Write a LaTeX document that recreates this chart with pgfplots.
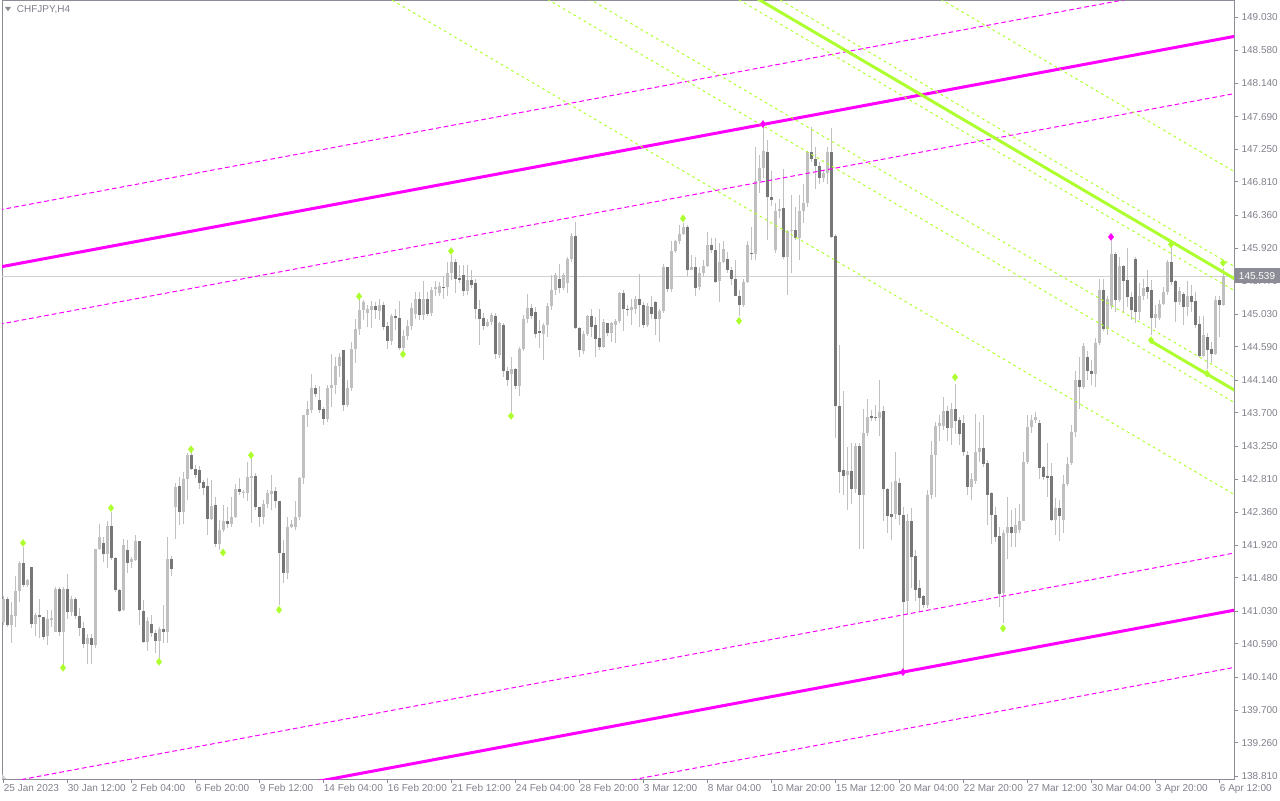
\documentclass[border=0pt]{standalone}
\usepackage{pgfplots}
\pgfplotsset{compat=1.18}
\usepackage{pgfplotstable}
\usepackage{fontspec}
\setmainfont{Liberation Sans}

\definecolor{bull}{HTML}{C0C0C0}
\definecolor{bear}{HTML}{777777}
\definecolor{lbl}{HTML}{80808C}
\definecolor{frame}{HTML}{8C8C96}
\definecolor{chan}{HTML}{FF00FF}
\definecolor{lime}{HTML}{ADFF2F}

% H4 bars, index 0 = 25 Jan 20:00
\pgfplotstableread{
i o h l c
0 140.89 141.23 140.84 141.20
1 141.20 141.22 140.82 140.84
2 140.84 141.16 140.60 140.98
3 140.97 141.50 140.82 141.30
4 141.30 141.70 141.15 141.68
5 141.68 141.90 141.36 141.38
6 141.38 141.47 141.36 141.45
7 141.62 141.63 140.80 140.86
8 140.86 141.00 140.69 140.98
9 140.98 141.19 140.67 140.95
10 140.95 140.96 140.64 140.69
11 140.69 141.05 140.57 140.93
12 140.93 141.05 140.82 140.935
13 140.75 141.36 140.75 141.33
14 141.33 141.36 140.70 140.75
15 140.75 141.36 140.31 141.33
16 141.33 141.53 140.93 141.02
17 141.02 141.23 140.96 141.19
18 141.19 141.22 140.93 140.97
19 140.97 141.07 140.69 140.80
20 140.80 140.88 140.53 140.59
21 140.59 140.73 140.32 140.67
22 140.67 140.73 140.32 140.58
23 140.58 141.87 140.53 141.87
24 141.87 142.21 141.86 142.03
25 141.95 142.03 141.70 141.80
26 141.80 142.24 141.61 142.18
27 142.18 142.37 141.72 141.75
28 141.75 141.76 141.29 141.32
29 141.32 141.33 141.02 141.04
30 141.04 142.00 141.03 141.92
31 141.85 141.99 141.54 141.68
32 141.69 141.76 141.61 141.73
33 141.72 142.06 141.71 141.98
34 141.98 141.98 140.84 141.04
35 141.03 141.18 140.60 140.62
36 140.62 140.96 140.50 140.90
37 140.86 140.98 140.69 140.74
38 140.74 140.78 140.47 140.63
39 140.63 140.82 140.40 140.79
40 140.79 141.11 140.60 140.75
41 140.75 142.03 140.60 141.73
42 141.73 141.77 141.50 141.60
43 142.44 142.76 142.00 142.71
44 142.71 142.84 142.19 142.37
45 142.37 142.91 142.21 142.81
46 142.81 143.16 142.53 143.13
47 143.13 143.18 142.93 142.95
48 142.95 143.00 142.82 142.86
49 142.93 142.98 142.68 142.76
50 142.77 142.80 142.59 142.69
51 142.71 142.82 142.06 142.27
52 142.27 142.80 142.26 142.45
53 142.46 142.57 141.90 141.93
54 141.93 142.26 141.85 142.13
55 142.13 142.46 142.10 142.24
56 142.24 142.44 142.15 142.20
57 142.20 142.57 142.16 142.30
58 142.30 142.75 142.28 142.68
59 142.68 142.82 142.59 142.63
60 142.62 142.66 142.55 142.64
61 142.62 143.04 142.51 142.84
62 142.84 143.08 142.22 142.85
63 142.85 142.89 142.39 142.44
64 142.44 142.44 142.17 142.30
65 142.30 142.53 142.21 142.48
66 142.48 142.66 142.42 142.62
67 142.61 142.86 142.39 142.65
68 142.65 142.71 142.42 142.51
69 142.51 142.51 141.11 141.82
70 141.82 141.99 141.41 141.55
71 141.55 142.30 141.47 142.17
72 142.17 142.26 142.15 142.21
73 142.16 142.51 142.12 142.30
74 142.30 142.84 142.26 142.82
75 142.82 143.68 142.75 143.67
76 143.67 143.86 143.51 143.75
77 143.74 144.23 143.70 144.04
78 144.04 144.08 143.92 143.96
79 143.87 144.07 143.70 143.74
80 143.75 143.78 143.54 143.62
81 143.62 144.08 143.58 144.04
82 144.04 144.50 143.78 144.08
83 144.08 144.46 143.96 144.33
84 144.33 144.51 144.19 144.46
85 144.55 144.55 143.72 143.81
86 143.81 144.14 143.78 144.04
87 144.04 144.66 143.99 144.56
88 144.56 144.97 144.37 144.83
89 144.83 145.23 144.75 145.09
90 145.09 145.22 144.95 145.19
91 145.04 145.15 144.86 145.10
92 145.09 145.21 144.85 145.14
93 145.14 145.20 144.97 145.08
94 145.08 145.24 144.95 145.15
95 145.15 145.20 144.82 144.86
96 144.87 144.93 144.56 144.67
97 144.67 145.04 144.62 145.01
98 145.01 145.10 144.82 144.98
99 144.98 145.21 144.55 144.58
100 144.58 144.82 144.54 144.74
101 144.74 144.95 144.68 144.87
102 144.87 145.18 144.82 145.11
103 145.03 145.33 144.97 145.23
104 145.23 145.33 144.95 145.02
105 145.02 145.48 144.95 145.23
106 145.23 145.33 145.00 145.04
107 145.04 145.40 145.00 145.36
108 145.37 145.48 145.27 145.40
109 145.32 145.47 145.27 145.41
110 145.40 145.55 145.24 145.39
111 145.39 145.73 145.27 145.59
112 145.58 145.83 145.49 145.74
113 145.74 145.78 145.32 145.50
114 145.52 145.69 145.45 145.49
115 145.56 145.69 145.27 145.34
116 145.34 145.69 145.29 145.49
117 145.49 145.62 145.38 145.42
118 145.45 145.50 144.97 145.10
119 145.10 145.22 144.62 144.97
120 144.98 145.04 144.82 144.87
121 144.87 144.97 144.86 144.93
122 144.92 145.05 144.88 145.02
123 145.01 145.04 144.42 144.49
124 144.48 144.93 144.44 144.91
125 144.88 144.91 144.19 144.26
126 144.26 144.32 144.06 144.14
127 144.22 144.46 143.72 144.29
128 144.29 144.30 144.03 144.06
129 144.06 144.59 143.93 144.56
130 144.56 145.02 144.53 144.97
131 144.97 145.30 144.91 145.11
132 145.11 145.17 144.97 145.01
133 145.06 145.13 144.71 144.77
134 144.80 144.95 144.57 144.77
135 144.77 144.91 144.41 144.88
136 144.88 145.18 144.73 145.14
137 145.14 145.56 145.09 145.36
138 145.36 145.58 145.29 145.56
139 145.50 145.71 145.32 145.39
140 145.39 145.58 145.36 145.56
141 145.45 145.80 145.31 145.77
142 145.77 146.12 145.74 146.08
143 146.08 146.27 144.83 144.84
144 144.84 144.86 144.45 144.55
145 144.53 144.80 144.49 144.77
146 144.77 145.02 144.73 145.00
147 145.00 145.10 144.73 144.86
148 144.88 144.99 144.46 144.70
149 144.71 145.10 144.55 144.59
150 144.59 144.96 144.58 144.93
151 144.91 144.91 144.73 144.77
152 144.77 144.93 144.66 144.91
153 144.88 144.97 144.64 144.94
154 144.94 145.33 144.91 145.32
155 145.32 145.36 144.80 145.10
156 145.10 145.16 145.00 145.09
157 145.09 145.24 144.88 145.12
158 145.10 145.27 145.04 145.23
159 145.23 145.57 144.86 145.15
160 145.15 145.20 144.84 144.88
161 144.88 145.18 144.86 145.14
162 145.13 145.27 144.97 145.03
163 145.19 145.21 144.75 144.97
164 144.97 145.10 144.66 145.08
165 145.08 145.71 145.05 145.66
166 145.66 145.67 145.33 145.37
167 145.37 146.01 145.33 145.88
168 145.88 146.03 145.85 146.01
169 146.01 146.23 145.98 146.11
170 146.11 146.26 146.10 146.21
171 146.20 146.23 145.55 145.63
172 145.63 145.83 145.62 145.67
173 145.67 145.80 145.28 145.39
174 145.39 145.67 145.36 145.58
175 145.58 145.76 145.54 145.68
176 145.68 146.14 145.66 145.96
177 145.96 146.05 145.85 145.89
178 145.89 146.06 145.45 145.47
179 145.47 145.99 145.19 145.73
180 145.73 146.01 145.72 145.91
181 145.77 145.87 145.58 145.63
182 145.63 145.67 145.42 145.51
183 145.51 145.76 145.27 145.28
184 145.28 145.36 145.00 145.15
185 145.15 145.51 145.13 145.46
186 145.46 146.01 145.45 145.96
187 145.86 146.21 145.76 145.84
188 145.84 147.28 145.76 146.82
189 146.82 147.18 146.66 147.00
190 147.00 147.55 146.86 147.23
191 147.22 147.38 146.03 146.61
192 146.61 146.96 146.48 146.57
193 145.89 146.53 145.86 146.42
194 146.42 146.58 146.33 146.45
195 146.46 146.98 145.78 145.80
196 145.80 146.16 145.29 146.15
197 146.15 146.63 145.59 146.17
198 146.17 146.48 146.03 146.06
199 146.06 146.63 145.76 146.42
200 146.42 146.78 146.26 146.53
201 146.53 147.23 146.48 147.21
202 147.21 147.55 147.08 147.12
203 147.12 147.28 146.71 147.03
204 147.03 147.08 146.78 146.87
205 146.87 146.96 146.81 146.93
206 146.93 147.28 146.78 147.22
207 147.22 147.54 146.06 146.07
208 146.08 146.11 143.37 143.79
209 143.79 144.61 142.62 142.90
210 142.93 143.99 142.59 142.85
211 142.86 143.24 142.40 142.92
212 142.92 143.29 142.48 142.67
213 142.67 143.29 142.62 143.25
214 143.25 143.29 141.87 142.59
215 142.59 143.75 141.87 143.43
216 143.43 143.89 143.39 143.65
217 143.66 143.74 143.59 143.64
218 143.65 143.81 143.59 143.63
219 143.63 144.14 143.39 143.72
220 143.72 143.80 142.25 142.67
221 142.68 142.69 142.09 142.32
222 142.34 142.77 141.99 142.30
223 142.34 143.17 142.27 142.78
224 142.76 142.82 142.19 142.33
225 142.33 142.43 140.22 141.16
226 141.17 142.34 141.00 142.25
227 142.24 142.42 141.35 141.76
228 141.77 141.85 141.17 141.32
229 141.34 141.45 141.02 141.21
230 141.23 141.25 141.07 141.11
231 141.11 142.67 141.07 142.60
232 142.59 143.32 142.54 143.14
233 143.13 143.58 142.57 143.53
234 143.52 143.67 143.32 143.57
235 143.53 143.91 143.47 143.72
236 143.72 143.79 143.32 143.50
237 143.50 143.84 143.27 143.75
238 143.75 144.09 143.42 143.59
239 143.60 143.64 143.27 143.42
240 143.56 143.67 143.12 143.18
241 143.13 143.19 142.59 142.70
242 142.70 142.89 142.53 142.81
243 142.78 143.68 142.74 143.17
244 143.17 143.58 143.04 143.23
245 143.23 143.68 142.97 143.02
246 143.03 143.07 142.19 142.60
247 142.62 142.64 141.94 142.32
248 142.33 142.44 141.97 142.03
249 142.04 142.17 141.09 141.26
250 141.27 142.12 140.87 142.08
251 142.08 142.57 141.74 142.16
252 142.16 142.39 141.90 142.09
253 142.09 142.42 141.90 142.19
254 142.12 142.48 142.08 142.25
255 142.25 143.18 142.24 143.04
256 143.04 143.67 143.02 143.51
257 143.51 143.67 143.43 143.61
258 143.61 143.72 143.56 143.65
259 143.56 143.61 142.81 142.96
260 142.97 142.98 142.80 142.84
261 142.85 143.29 142.57 142.83
262 142.85 143.02 142.25 142.26
263 142.26 142.55 142.06 142.42
264 142.42 142.53 141.98 142.31
265 142.26 142.87 142.08 142.74
266 142.74 143.11 142.71 143.02
267 143.02 143.54 143.00 143.44
268 143.44 144.26 143.38 144.14
269 144.14 144.46 143.76 144.05
270 144.05 144.64 144.03 144.60
271 144.46 144.53 144.14 144.26
272 144.26 144.41 144.08 144.23
273 144.23 144.71 144.05 144.64
274 144.64 145.50 144.62 145.36
275 145.36 145.51 144.80 144.83
276 144.83 145.27 144.75 145.23
277 145.14 146.02 145.10 145.84
278 145.84 145.87 145.06 145.22
279 145.22 145.80 145.20 145.68
280 145.68 145.69 145.06 145.48
281 145.49 145.92 145.13 145.26
282 145.26 145.33 144.95 145.09
283 145.77 145.80 144.91 145.06
284 145.06 145.45 144.95 145.28
285 145.28 145.51 145.22 145.39
286 145.39 145.63 145.24 145.33
287 145.36 145.49 144.75 144.98
288 144.98 145.16 144.85 145.04
289 144.98 145.22 144.95 145.17
290 145.17 145.40 145.15 145.33
291 145.33 145.76 145.29 145.74
292 145.74 145.98 145.42 145.47
293 145.48 145.49 144.93 145.19
294 145.19 145.40 145.15 145.34
295 145.30 145.33 144.88 145.13
296 145.12 145.48 145.00 145.28
297 145.28 145.42 145.06 145.20
298 145.21 145.33 144.84 144.88
299 144.90 145.00 144.45 144.47
300 144.47 145.00 144.45 144.75
301 144.72 144.77 144.29 144.55
302 144.56 144.66 144.37 144.50
303 144.50 145.27 144.48 145.22
304 145.22 145.28 144.73 145.15
305 145.15 145.65 145.14 145.539
}\ohlc

\begin{document}
\begin{tikzpicture}[x=1pt,y=1pt]
\useasboundingbox (0,0) rectangle (960,600);
\begin{axis}[
  at={(1.5pt,15.75pt)}, anchor=south west, scale only axis,
  width=924pt, height=583.5pt,
  xmin=-0.25, xmax=307.75, ymin=138.771, ymax=149.247,
  axis line style={frame, line width=0.75pt},
  tick style={frame, line width=0.75pt},
  tick align=outside, major tick length=3pt,
  xtick pos=bottom, ytick pos=right, yticklabel pos=right,
  xtick={0,16,...,304},
  xticklabels={25 Jan 2023, 30 Jan 12:00, 2 Feb 04:00, 6 Feb 20:00, 9 Feb 12:00,
    14 Feb 04:00, 16 Feb 20:00, 21 Feb 12:00, 24 Feb 04:00, 28 Feb 20:00,
    3 Mar 12:00, 8 Mar 04:00, 10 Mar 20:00, 15 Mar 12:00, 20 Mar 04:00,
    22 Mar 20:00, 27 Mar 12:00, 30 Mar 04:00, 3 Apr 20:00, 6 Apr 12:00},
  ytick={138.810,139.260,139.700,140.140,140.590,141.030,141.480,141.920,
    142.360,142.810,143.250,143.700,144.140,144.590,145.030,145.470,145.920,
    146.360,146.810,147.250,147.690,148.140,148.580,149.030},
  ticklabel style={font=\fontsize{7.5}{9}\selectfont, text=lbl},
  xticklabel style={anchor=north west, inner sep=1pt, xshift=-0.5pt},
  yticklabel style={anchor=west, inner sep=1pt, xshift=1.5pt,
    /pgf/number format/.cd, fixed, precision=3, zerofill, assume math mode=true},
  scaled y ticks=false,
]
% bid line
\addplot[color=black!18, line width=0.75pt] coordinates {(-1,145.539) (309,145.539)};

% wicks
\addplot[draw=none, mark=none, error bars/.cd, y dir=both, y explicit,
  error bar style={line width=0.75pt, bull}, error mark=none]
  table[x=i, y expr={(\thisrow{h}+\thisrow{l})/2},
    y error expr={(\thisrow{h}-\thisrow{l})/2}] {\ohlc};
% bull bodies
\addplot[draw=none, mark=none, unbounded coords=discard,
  error bars/.cd, y dir=both, y explicit,
  error bar style={line width=2.25pt, bull}, error mark=none]
  table[x=i, y expr={\thisrow{c}>=\thisrow{o} ? (\thisrow{o}+\thisrow{c})/2 : nan},
    y error expr={max(abs(\thisrow{c}-\thisrow{o})/2,0.007)}] {\ohlc};
% bear bodies
\addplot[draw=none, mark=none, unbounded coords=discard,
  error bars/.cd, y dir=both, y explicit,
  error bar style={line width=2.25pt, bear}, error mark=none]
  table[x=i, y expr={\thisrow{c}<\thisrow{o} ? (\thisrow{o}+\thisrow{c})/2 : nan},
    y error expr={max(abs(\thisrow{c}-\thisrow{o})/2,0.007)}] {\ohlc};

% rising channel (magenta)
\addplot[chan, line width=2.25pt] coordinates {(-1,145.663) (309,148.782)};
\addplot[chan, line width=2.25pt] coordinates {(-1,137.937) (309,141.056)};
\addplot[chan, line width=0.75pt, dash pattern=on 3.5pt off 2.25pt] coordinates {(-1,146.433) (309,149.552)};
\addplot[chan, line width=0.75pt, dash pattern=on 3.5pt off 2.25pt] coordinates {(-1,144.893) (309,148.012)};
\addplot[chan, line width=0.75pt, dash pattern=on 3.5pt off 2.25pt] coordinates {(-1,138.707) (309,141.826)};
\addplot[chan, line width=0.75pt, dash pattern=on 3.5pt off 2.25pt] coordinates {(-1,137.167) (309,140.286)};

% falling channel (lime)
\addplot[lime, line width=2.25pt] coordinates {(-1,155.273) (309,145.472)};
\addplot[lime, line width=2.25pt] coordinates {(287,144.666) (309,143.971)};
\addplot[lime, line width=0.75pt, dash pattern=on 2pt off 2.5pt] coordinates {(-1,152.365) (309,142.564)};
\addplot[lime, line width=0.75pt, dash pattern=on 2pt off 2.5pt] coordinates {(-1,153.604) (309,143.803)};
\addplot[lime, line width=0.75pt, dash pattern=on 2pt off 2.5pt] coordinates {(-1,153.940) (309,144.139)};
\addplot[lime, line width=0.75pt, dash pattern=on 2pt off 2.5pt] coordinates {(-1,155.112) (309,145.311)};
\addplot[lime, line width=0.75pt, dash pattern=on 2pt off 2.5pt] coordinates {(-1,155.435) (309,145.634)};
\addplot[lime, line width=0.75pt, dash pattern=on 2pt off 2.5pt] coordinates {(-1,156.714) (309,146.913)};

% fractals
\addplot[only marks, mark=diamond*, mark size=2.6pt, color=lime] coordinates {
  (5,141.95) (15,140.27) (27,142.42) (39,140.35) (47,143.21) (55,141.82)
  (62,143.13) (69,141.05) (89,145.27) (100,144.49) (112,145.88) (127,143.66)
  (170,146.32) (184,144.94) (238,144.18) (250,140.80) (287,144.68)
  (292,145.97) (301,144.23) (305,145.72)};
\addplot[only marks, mark=diamond*, mark size=2.6pt, color=chan] coordinates {
  (190,147.59) (225,140.21) (277,146.07)};
\end{axis}

% symbol and period
\fill[frame] (3.75,594.75) -- (8.25,594.75) -- (6,591.5) -- cycle;
\node[anchor=west, inner sep=0pt, text=lbl, font=\fontsize{7.5}{9}\selectfont] at (12.5,593) {CHFJPY,H4};
\fill[black!20] (1.5,15.75) -- (5,15.75) -- (1.5,19.25) -- cycle;

% current price tag
\fill[frame] (926.25,387.5) rectangle (960,398.75);
\node[anchor=west, inner sep=0pt, text=white, font=\fontsize{7.5}{9}\selectfont] at (929,393.1) {145.539};
\end{tikzpicture}
\end{document}
